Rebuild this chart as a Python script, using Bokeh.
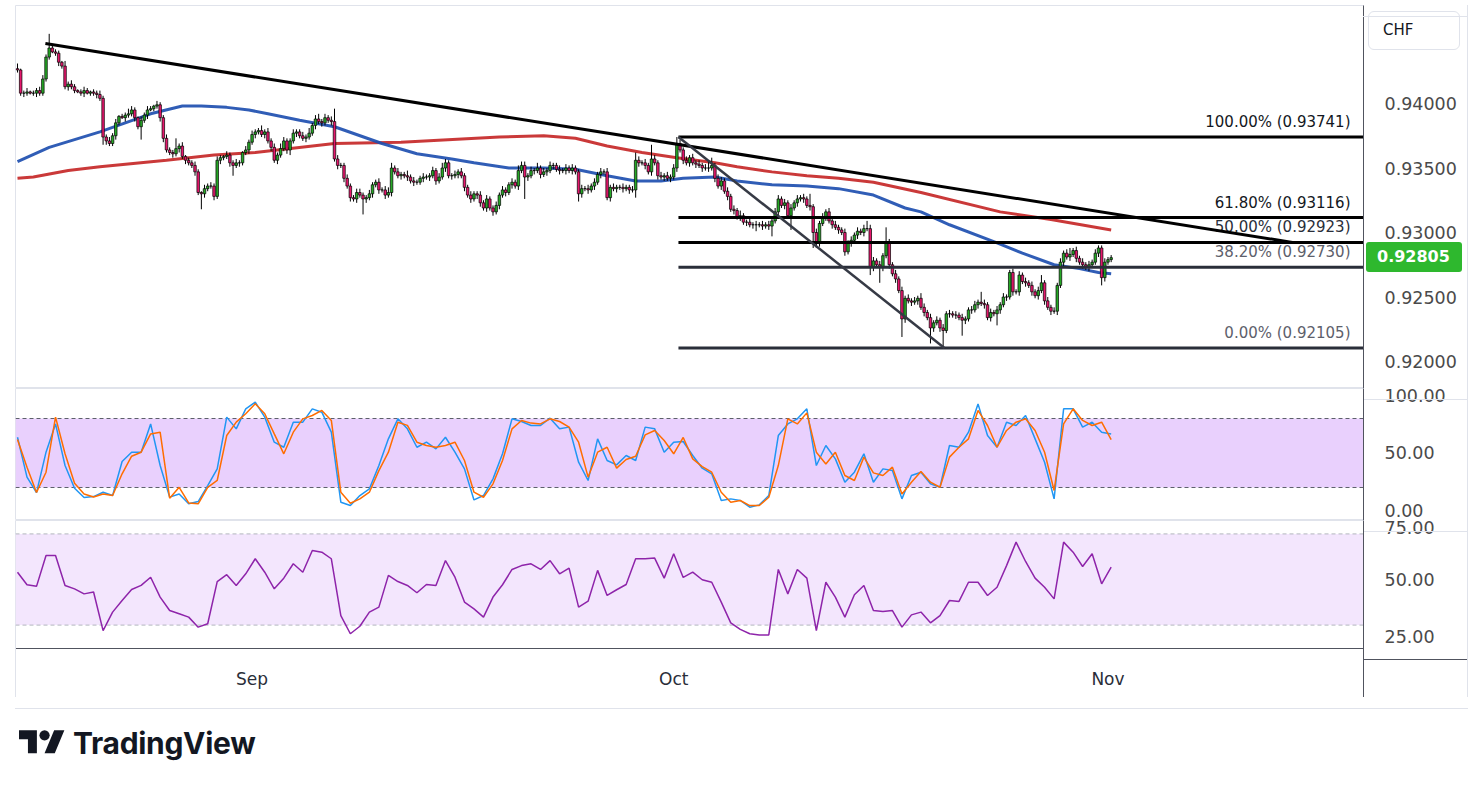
from bokeh.plotting import figure
from bokeh.layouts import column
from bokeh.models import (Range1d, FixedTicker, NumeralTickFormatter, Span, BoxAnnotation,
                          Div, ColumnDataSource)
from bokeh.core.properties import value
from bokeh.embed import file_html
from bokeh.resources import INLINE

FONT = "DejaVu Sans"

# ---------------- data (4H bars) ----------------
first_open = 0.9427
closes = [
    0.9426, 0.9408, 0.9408, 0.9409, 0.9408, 0.9408, 0.9410, 0.9408, 0.9419, 0.9436,
    0.9443, 0.9440, 0.9439, 0.9432, 0.9429, 0.9413, 0.9415, 0.9413, 0.9410, 0.9409,
    0.9408, 0.9410, 0.9408, 0.9409, 0.9408, 0.9407, 0.9404, 0.9374, 0.9371, 0.9369,
    0.9375, 0.9385, 0.9390, 0.9389, 0.9391, 0.9392, 0.9395, 0.9389, 0.9382, 0.9387,
    0.9391, 0.9395, 0.9396, 0.9398, 0.9399, 0.9389, 0.9373, 0.9364, 0.9362, 0.9361,
    0.9365, 0.9367, 0.9359, 0.9356, 0.9354, 0.9352, 0.9347, 0.9331, 0.9330, 0.9334,
    0.9336, 0.9336, 0.9328, 0.9356, 0.9358, 0.9359, 0.9360, 0.9354, 0.9352, 0.9354,
    0.9354, 0.9362, 0.9364, 0.9370, 0.9376, 0.9378, 0.9379, 0.9376, 0.9378, 0.9371,
    0.9366, 0.9356, 0.9360, 0.9365, 0.9371, 0.9364, 0.9371, 0.9377, 0.9378, 0.9375,
    0.9373, 0.9374, 0.9377, 0.9383, 0.9388, 0.9386, 0.9385, 0.9389, 0.9387, 0.9386,
    0.9357, 0.9352, 0.9352, 0.9342, 0.9336, 0.9327, 0.9326, 0.9331, 0.9329, 0.9326,
    0.9327, 0.9330, 0.9337, 0.9339, 0.9333, 0.9333, 0.9329, 0.9331, 0.9350, 0.9347,
    0.9344, 0.9345, 0.9344, 0.9343, 0.9340, 0.9339, 0.9339, 0.9342, 0.9343, 0.9343,
    0.9344, 0.9348, 0.9340, 0.9343, 0.9350, 0.9354, 0.9344, 0.9344, 0.9345, 0.9347,
    0.9344, 0.9335, 0.9329, 0.9326, 0.9330, 0.9329, 0.9323, 0.9319, 0.9326, 0.9319,
    0.9316, 0.9321, 0.9329, 0.9333, 0.9331, 0.9337, 0.9339, 0.9336, 0.9348, 0.9352,
    0.9343, 0.9344, 0.9348, 0.9348, 0.9350, 0.9345, 0.9347, 0.9348, 0.9352, 0.9352,
    0.9349, 0.9348, 0.9348, 0.9350, 0.9348, 0.9350, 0.9347, 0.9330, 0.9334, 0.9334,
    0.9333, 0.9336, 0.9339, 0.9345, 0.9347, 0.9347, 0.9327, 0.9335, 0.9334, 0.9335,
    0.9335, 0.9334, 0.9335, 0.9333, 0.9333, 0.9356, 0.9354, 0.9354, 0.9352, 0.9347,
    0.9357, 0.9354, 0.9344, 0.9343, 0.9344, 0.9342, 0.9343, 0.9350, 0.9369, 0.9364,
    0.9356, 0.9354, 0.9358, 0.9354, 0.9353, 0.9352, 0.9350, 0.9350, 0.9350, 0.9352,
    0.9342, 0.9336, 0.9340, 0.9332, 0.9328, 0.9318, 0.9317, 0.9312, 0.9313, 0.9308,
    0.9308, 0.9306, 0.9306, 0.9306, 0.9306, 0.9305, 0.9306, 0.9305, 0.9309, 0.9316,
    0.9326, 0.9321, 0.9323, 0.9313, 0.9319, 0.9323, 0.9326, 0.9327, 0.9326, 0.9321,
    0.9320, 0.9300, 0.9292, 0.9307, 0.9312, 0.9316, 0.9309, 0.9306, 0.9304, 0.9302,
    0.9300, 0.9285, 0.9292, 0.9294, 0.9298, 0.9301, 0.9300, 0.9303, 0.9303, 0.9273,
    0.9278, 0.9275, 0.9273, 0.9282, 0.9292, 0.9275, 0.9268, 0.9264, 0.9255, 0.9233,
    0.9249, 0.9247, 0.9246, 0.9247, 0.9249, 0.9242, 0.9238, 0.9234, 0.9226, 0.9230,
    0.9232, 0.9226, 0.9224, 0.9237, 0.9237, 0.9236, 0.9236, 0.9234, 0.9232, 0.9233,
    0.9240, 0.9240, 0.9244, 0.9246, 0.9245, 0.9244, 0.9234, 0.9238, 0.9237, 0.9240,
    0.9244, 0.9250, 0.9250, 0.9269, 0.9254, 0.9254, 0.9267, 0.9262, 0.9261, 0.9259,
    0.9254, 0.9251, 0.9255, 0.9261, 0.9247, 0.9242, 0.9239, 0.9239, 0.9259, 0.9277,
    0.9284, 0.9281, 0.9283, 0.9286, 0.9280, 0.9277, 0.9275, 0.9273, 0.9275, 0.9277,
    0.9284, 0.9288, 0.9265, 0.9277, 0.9279, 0.92805,
]
# wick lengths above / below the body, in pips (0.0001)
upper_wick_pips = [
    4, 1, 2, 3, 1, 2, 2, 3, 3, 2,   11, 3, 2, 2, 1, 4, 2, 3, 2, 1,
    2, 3, 2, 1, 2, 2, 3, 2, 2, 3,   2, 3, 1, 2, 2, 4, 3, 2, 1, 3,
    2, 3, 2, 1, 3, 2, 2, 3, 2, 2,   8, 2, 3, 1, 2, 2, 3, 2, 1, 3,
    2, 3, 2, 3, 2, 1, 3, 2, 2, 3,   2, 1, 3, 2, 3, 2, 2, 4, 2, 3,
    2, 3, 2, 4, 3, 2, 2, 3, 2, 2,   3, 2, 4, 2, 3, 4, 2, 3, 2, 3,
    10, 3, 2, 2, 3, 2, 2, 3, 3, 2,  2, 3, 2, 2, 3, 2, 3, 4, 4, 2,
    3, 2, 2, 4, 2, 3, 2, 2, 3, 2,   2, 3, 2, 3, 4, 3, 2, 2, 3, 2,
    3, 2, 2, 3, 2, 2, 3, 2, 3, 2,   2, 3, 2, 3, 2, 2, 3, 2, 4, 3,
    3, 2, 3, 2, 4, 2, 3, 2, 3, 2,   2, 3, 2, 3, 2, 3, 2, 2, 3, 2,
    3, 2, 3, 2, 3, 2, 3, 2, 3, 2,   2, 3, 2, 2, 3, 6, 3, 2, 3, 2,
    11, 3, 2, 3, 2, 3, 2, 3, 5, 3,  2, 3, 2, 3, 2, 3, 2, 3, 6, 6,
    2, 3, 3, 2, 3, 2, 3, 2, 4, 2,   2, 3, 2, 3, 2, 3, 2, 3, 2, 3,
    3, 2, 3, 2, 3, 2, 3, 2, 3, 2,   9, 2, 3, 2, 3, 2, 3, 2, 3, 2,
    2, 3, 2, 3, 2, 3, 2, 3, 6, 3,   3, 2, 3, 2, 12, 3, 2, 3, 2, 3,
    2, 3, 2, 3, 2, 4, 3, 2, 3, 2,   3, 2, 3, 2, 3, 2, 3, 2, 3, 2,
    2, 3, 3, 2, 8, 3, 2, 3, 2, 3,   2, 3, 2, 2, 3, 2, 3, 2, 3, 2,
    3, 2, 3, 6, 2, 3, 2, 3, 2, 3,   2, 3, 5, 2, 3, 2, 3, 2, 3, 2,
    3, 2, 2, 3, 2, 2,
]
lower_wick_pips = [
    2, 2, 3, 2, 1, 2, 3, 2, 2, 2,   2, 1, 2, 3, 2, 2, 3, 2, 2, 1,
    2, 3, 1, 2, 2, 3, 2, 6, 3, 2,   2, 3, 2, 1, 3, 2, 2, 3, 2, 10,
    2, 3, 1, 2, 2, 3, 3, 2, 2, 3,   2, 3, 2, 3, 2, 2, 3, 2, 12, 3,
    2, 2, 3, 2, 3, 2, 2, 3, 8, 2,   3, 2, 2, 3, 2, 3, 2, 2, 3, 2,
    3, 2, 3, 2, 2, 3, 4, 2, 3, 2,   2, 3, 2, 2, 3, 2, 3, 2, 2, 3,
    2, 3, 2, 3, 2, 3, 2, 3, 2, 12,  3, 2, 3, 2, 3, 2, 3, 2, 3, 2,
    2, 3, 2, 3, 2, 3, 2, 2, 3, 2,   3, 2, 3, 2, 2, 3, 2, 3, 2, 3,
    2, 3, 2, 3, 2, 3, 3, 2, 3, 2,   3, 2, 3, 2, 3, 2, 3, 2, 3, 2,
    17, 3, 2, 3, 2, 3, 2, 3, 2, 3,  2, 3, 2, 3, 2, 3, 2, 6, 3, 2,
    3, 2, 3, 2, 3, 2, 2, 3, 2, 3,   2, 3, 2, 3, 2, 6, 3, 2, 3, 2,
    3, 2, 3, 2, 3, 2, 3, 2, 3, 2,   3, 2, 3, 2, 3, 2, 3, 2, 3, 2,
    3, 2, 3, 2, 3, 2, 3, 2, 3, 2,   3, 2, 3, 5, 2, 3, 2, 3, 8, 2,
    3, 2, 3, 2, 11, 2, 3, 2, 3, 2,  3, 12, 4, 3, 2, 3, 2, 3, 2, 3,
    2, 3, 2, 3, 2, 3, 2, 3, 2, 6,   3, 2, 12, 3, 2, 3, 2, 3, 2, 14,
    3, 2, 3, 2, 3, 2, 3, 2, 12, 3,  2, 3, 13, 2, 3, 2, 3, 2, 12, 3,
    2, 3, 2, 3, 2, 3, 2, 3, 2, 9,   3, 2, 3, 2, 3, 2, 3, 2, 3, 2,
    3, 2, 3, 2, 3, 2, 3, 2, 3, 2,   3, 2, 3, 2, 3, 2, 3, 2, 3, 2,
    2, 3, 6, 3, 2, 2,
]

# moving averages (bar index, value)
ma_fast_index = [0, 10, 26, 42, 52, 58, 66, 73, 79, 89, 100, 115, 126, 137, 144, 155, 166, 176,
                 186, 195, 203, 210, 220, 227, 238, 249, 259, 270, 280, 285, 294, 309, 317, 327,
                 335, 341, 345]
ma_fast_values = [0.9355, 0.9366, 0.9378, 0.9392, 0.9398, 0.9398, 0.9397, 0.9395, 0.9392, 0.9387,
                  0.9382, 0.9369, 0.9361, 0.9357, 0.9354, 0.9350, 0.9350, 0.9349, 0.9344, 0.9340,
                  0.9340, 0.9342, 0.9343, 0.9340, 0.9337, 0.9336, 0.9334, 0.9329, 0.9319, 0.9316,
                  0.9306, 0.9292, 0.9284, 0.9275, 0.9272, 0.9269, 0.9268]
ma_slow_index = [0, 5, 16, 26, 47, 62, 75, 100, 121, 152, 166, 176, 186, 197, 208, 220, 227, 238,
                 249, 259, 270, 285, 310, 326, 345]
ma_slow_values = [0.9342, 0.9343, 0.9348, 0.9351, 0.9356, 0.9360, 0.9362, 0.9369, 0.9370, 0.9374,
                  0.9375, 0.9373, 0.9367, 0.9362, 0.9358, 0.9354, 0.9351, 0.9347, 0.9344, 0.9342,
                  0.9339, 0.9331, 0.9316, 0.9310, 0.9302]

# drawings
trend_index = [8.8, 402.2]
trend_price = [0.94465, 0.92923]
fib_high, fib_low = 0.93741, 0.92105
fib_start_index = 208.5
fib_end_index = 292.4
fib_ratios = [1.0, 0.618, 0.5, 0.382, 0.0]

# indicators, sampled every third bar
stoch_k = [63.7, 29, 15.6, 50.7, 75.3, 39.1, 19.4, 11.3, 12.1, 15.9,
           13, 42.6, 50.7, 50.7, 75.3, 39.1, 11.6, 14.4, 5.8, 7.8,
           21.7, 36.2, 81.2, 71, 88.4, 94.2, 81.2, 59.4, 55, 76.8,
           76.8, 88.4, 85.5, 68.1, 7.2, 4.3, 13, 18.8, 39.1, 62.3,
           79.7, 71, 55, 59.4, 53.6, 63.7, 50.7, 36.2, 9.2, 13,
           27.5, 49.3, 79.7, 77.4, 73.9, 73.9, 80.3, 71,
           72.5, 42, 26.1, 62.3, 43.5, 39.7, 47.8, 43.5, 72.5, 71,
           50.7, 59.4, 60, 47.8, 36.8, 31.9, 8.7, 10.1, 8.7, 2.9,
           4.9, 13, 65.2, 75.3, 79.7, 88.4, 39.1, 56.5, 44.9, 24.6,
           33.3, 49.3, 24.6, 36.2, 34.7, 10.1, 30.4, 33.3, 23.2, 20.2,
           56.5, 55, 68.1, 92.7, 65.2, 55, 76.8, 73.9, 82.6, 62.3,
           42, 10.1, 88.4, 88.4, 72.5, 76.8, 68.1, 66.6]
stoch_d = [61.7, 37.7, 15.6, 33.3, 81.2, 49.3, 23.7, 14.4, 11.8, 14.4,
           13, 31.9, 47.2, 50.7, 66.6, 68.1, 10.7, 20.2, 6.6, 5.8,
           20.2, 26.1, 65.2, 76.8, 84.1, 92.8, 84.1, 66.6, 49.3, 68.1,
           79.7, 82.6, 87, 78.3, 15.9, 6.3, 10.1, 15.9, 34.7, 50.7,
           76.8, 74, 59.4, 56.5, 55, 56.5, 59.4, 43.5, 15.9, 11.5,
           23.2, 43.5, 71, 78.3, 76, 75.3, 79.7, 77.4,
           72.5, 59.4, 29, 50.7, 55, 36.8, 44.3, 47.2, 65.8, 69.6,
           60.9, 49.3, 63.5, 44.9, 38.2, 33.3, 15.9, 7.2, 8.7, 4.3,
           4.3, 11.5, 39.1, 79.7, 75.3, 84.9, 50.7, 40.5, 50.7, 30.4,
           26.1, 46.4, 32.7, 30.4, 37.7, 14.4, 24.6, 33.9, 24.6, 20.2,
           46.4, 55, 62.3, 87, 73.9, 55, 69.6, 76.8, 79.7, 69.6,
           50.7, 17.4, 75.3, 88.4, 78.3, 73.9, 76.8, 61.7]
rsi = [53.2, 47.7, 47, 60.5, 60.5, 47.4, 45.9, 43.7, 44.5, 27.6,
       35.7, 40.8, 45.6, 47.4, 51, 42.3, 36.4, 35, 33.5, 29.1,
       30.6, 49.1, 52.1, 47.4, 52.5, 59.1, 53.2, 45.9, 50.6, 56.9,
       53.2, 62.7, 62, 59.1, 34.2, 26.2, 29.5, 35.7, 37.9, 51.8,
       49.1, 47.4, 44.2, 47.8, 47.4, 58.3, 51, 40.1, 37.1, 33.5,
       42.3, 47.7, 54.4, 56.1, 56.9, 54.4, 58.3, 52.5,
       55, 37.9, 40.5, 54, 43, 45.5, 47.8, 59.1, 59.1, 59.4,
       50.6, 61.3, 50.9, 53.2, 49.9, 48.8, 40.1, 31, 28.1, 26.2,
       25.7, 25.7, 54.4, 43.7, 54.4, 50.6, 27.6, 48.8, 42.3, 33.5,
       43.3, 47.4, 36.4, 36, 36.4, 29.1, 34.5, 35.7, 31, 34.2,
       40.8, 40.4, 48.8, 48.8, 43, 46.6, 56.1, 66.4, 57.9, 50.6,
       46.6, 41.5, 66.4, 62, 55.7, 61.3, 48.1, 55.4]

price_ticks = [0.92, 0.925, 0.93, 0.935, 0.94]
month_index = [74, 207, 344]
month_labels = ["Sep", "Oct", "Nov"]
currency = "CHF"

# ---------------- derived ----------------
n = len(closes)
bar_index = list(range(n))
ind_index = list(range(0, n, 3))
opens = [first_open] + closes[:-1]
highs = [max(o, c) + u * 0.0001 for o, c, u in zip(opens, closes, upper_wick_pips)]
lows = [min(o, c) - d * 0.0001 for o, c, d in zip(opens, closes, lower_wick_pips)]
UP, DOWN = "#26a826", "#e5176c"
colors = [UP if c >= o else DOWN for o, c in zip(opens, closes)]
tops = [max(o, c) for o, c in zip(opens, closes)]
bottoms = [min(o, c) for o, c in zip(opens, closes)]

X_START, X_END = -0.63, 424.6
xr = Range1d(X_START, X_END)
W = 1468
MAIN_TOP, MAIN_FRAME_H = 5, 383
MAIN_Y0, MAIN_Y1 = 0.917907, 0.947597


def make_fig(height, y0, y1, below=False, bottom=0, top=0):
    p = figure(width=W, height=height, x_range=xr, y_range=Range1d(y0, y1),
               y_axis_location="right", x_axis_location="below" if below else None,
               output_backend="svg", toolbar_location=None, title=None,
               min_border_left=15, min_border_right=105, min_border_top=top,
               min_border_bottom=bottom)
    p.grid.visible = False
    p.outline_line_color = "#e0e3eb"
    p.border_fill_color = "white"
    ax = p.yaxis[0]
    ax.axis_line_color = "#50535e"
    ax.major_tick_line_color = None
    ax.minor_tick_line_color = None
    ax.major_label_text_font = FONT
    ax.major_label_text_font_size = "17.5px"
    ax.major_label_text_color = "#4a4a4a"
    ax.major_label_standoff = 15
    return p


# ---------------- main price panel ----------------
pm = make_fig(MAIN_TOP + MAIN_FRAME_H, MAIN_Y0, MAIN_Y1, top=MAIN_TOP)
pm.yaxis.ticker = FixedTicker(ticks=price_ticks)
pm.yaxis.formatter = NumeralTickFormatter(format="0.00000")

pm.line(ma_slow_index, ma_slow_values, line_color="#c62828", line_width=3, line_alpha=0.92)
pm.line(ma_fast_index, ma_fast_values, line_color="#1e4fb0", line_width=3, line_alpha=0.92)

src = ColumnDataSource(dict(x=bar_index, h=highs, l=lows, top=tops, bottom=bottoms, color=colors))
pm.segment(x0="x", y0="h", x1="x", y1="l", line_color="black", line_width=1, source=src)
pm.vbar(x="x", width=0.8, top="top", bottom="bottom", fill_color="color",
        line_color="black", line_width=0.7, source=src)

fib_levels = [fib_low + r * (fib_high - fib_low) for r in fib_ratios]
fib_text = [f"{r * 100:.2f}% ({lv:.5f})" for r, lv in zip(fib_ratios, fib_levels)]
fib_src = ColumnDataSource(dict(
    x0=[fib_start_index] * len(fib_ratios), x1=[X_END] * len(fib_ratios), y=fib_levels,
    text=fib_text,
    lc=["#000000", "#000000", "#000000", "#2a2e39", "#2a2e39"],
    tc=["#131722", "#131722", "#2a2e39", "#5d606b", "#5d606b"]))
pm.segment(x0="x0", y0="y", x1="x1", y1="y", line_color="lc", line_width=3, source=fib_src)
pm.text(x="x1", y="y", text="text", text_color="tc", text_font=value(FONT),
        text_font_size="15px", text_align="right", text_baseline="bottom",
        x_offset=-13, y_offset=-6, source=fib_src)

pm.line(trend_index, trend_price, line_color="black", line_width=3)
pm.line([fib_start_index, fib_end_index], [fib_high, fib_low], line_color="#363a45", line_width=2.5)

# ---------------- stochastic RSI panel ----------------
ps = make_fig(132, -8.70, 106.09)
ps.yaxis.ticker = FixedTicker(ticks=[0, 50, 100])
ps.yaxis.formatter = NumeralTickFormatter(format="0.00")
ps.add_layout(BoxAnnotation(bottom=20, top=80, fill_color="#e9d0fd", fill_alpha=1,
                            line_color=None, level="underlay"))
for lv in (20, 80):
    ps.add_layout(Span(location=lv, dimension="width", line_color="#5d606b",
                       line_dash="4 3", line_width=1, level="underlay"))
ps.line(ind_index, stoch_k, line_color="#2196f3", line_width=1.5)
ps.line(ind_index, stoch_d, line_color="#ff6d00", line_width=1.5)

# ---------------- RSI panel ----------------
pr = make_fig(177, 19.74, 75.88, below=True, bottom=49)
pr.yaxis.ticker = FixedTicker(ticks=[25, 50, 75])
pr.yaxis.formatter = NumeralTickFormatter(format="0.00")
pr.add_layout(BoxAnnotation(bottom=30, top=70, fill_color="#f3e6fd", fill_alpha=1,
                            line_color=None, level="underlay"))
for lv in (30, 70):
    pr.add_layout(Span(location=lv, dimension="width", line_color="#b2b5be",
                       line_dash="4 3", line_width=1, level="underlay"))
pr.line(ind_index, rsi, line_color="#8e24aa", line_width=1.5)
xa = pr.xaxis[0]
xa.ticker = FixedTicker(ticks=month_index)
xa.major_label_overrides = {m: lab for m, lab in zip(month_index, month_labels)}
xa.axis_line_color = "#50535e"
xa.major_tick_line_color = None
xa.minor_tick_line_color = None
xa.major_label_text_font = FONT
xa.major_label_text_font_size = "17px"
xa.major_label_text_color = "#2a2e39"
xa.major_label_standoff = 14

logo = Div(width=400, height=80, text=(
    '<div style="display:flex;align-items:center;gap:8px;padding-top:20px;padding-left:14px">'
    '<svg width="46" height="36" viewBox="0 0 36 28"><path d="M14 22H7V11H0V4h14v18zM28 22h-8l7.5-18h8L28 22z" fill="#131722"/>'
    '<circle cx="20" cy="8" r="4" fill="#131722"/></svg>'
    '<span style="font-family:Inter;font-weight:700;font-size:30px;color:#131722;letter-spacing:-0.3px">TradingView</span>'
    '</div>'))


# ---------------- overlays in the price-scale strip ----------------
def overlay(left, top, w, h, html):
    return Div(text=html, width=w, height=h,
               styles={"position": "absolute", "left": f"{left}px", "top": f"{top}px",
                       "margin": "0", "z-index": "5"})


def rule(left, top, w, h, color):
    return overlay(left, top, w, h, f'<div style="width:{w}px;height:{h}px;background:{color}"></div>')


price_sy = MAIN_TOP + (MAIN_Y1 - closes[-1]) / (MAIN_Y1 - MAIN_Y0) * MAIN_FRAME_H
tag_h = 30
chf_box = overlay(1368, 11, 92, 39, (
    '<div style="box-sizing:border-box;width:92px;height:39px;border:1px solid #e0e3eb;'
    'border-radius:6px;background:#fff;font-family:\'DejaVu Sans\';font-size:15px;color:#131722;'
    f'line-height:37px;padding-left:14px">{currency}</div>'))
price_tag = overlay(1366, round(price_sy - tag_h / 2), 96, tag_h, (
    f'<div style="box-sizing:border-box;width:96px;height:{tag_h}px;background:#2eb82e;'
    'border-radius:3px;font-family:\'DejaVu Sans\';font-weight:bold;font-size:16px;color:#fff;'
    f'line-height:{tag_h}px;padding-left:11px">{closes[-1]:.5f}</div>'))
LIGHT, DARK = "#e0e3eb", "#50535e"
rules = [
    rule(1363, 648, 1, 49, DARK), rule(1363, 648, 105, 1, DARK),
    rule(1363, 5, 105, 1, LIGHT), rule(1467, 5, 1, 692, LIGHT),
    rule(15, 697, 1453, 1, LIGHT), rule(15, 648, 1, 49, LIGHT),
    rule(1364, 388, 104, 1, LIGHT), rule(1364, 520, 104, 1, LIGHT),
]

layout = column(pm, ps, pr, logo, chf_box, price_tag, *rules)
open("out.html", "w").write(file_html(layout, INLINE))
